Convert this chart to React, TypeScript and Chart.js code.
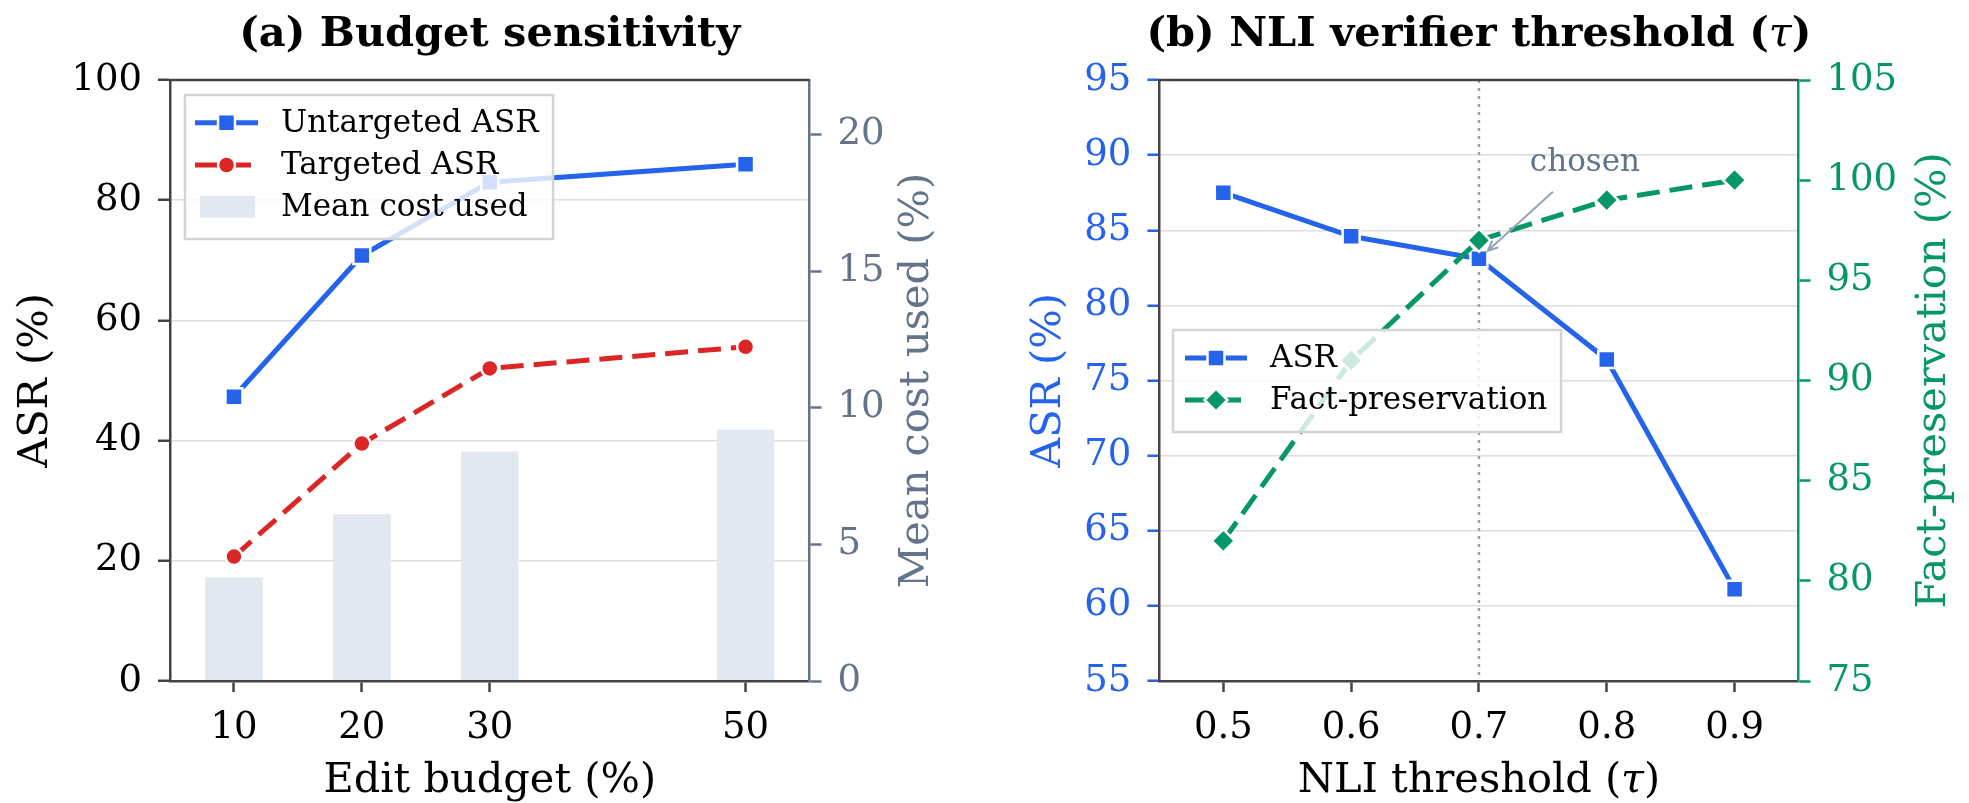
import React, { useEffect, useRef } from 'react';
import { Chart, registerables } from 'chart.js';

Chart.register(...registerables);

// ---------------- data ----------------
const budgetLevels = [10, 20, 30, 50];
const untargetedASR = [47.3, 70.8, 83.0, 86.0];
const targetedASR = [20.7, 39.5, 52.0, 55.6];
const meanCostUsed = [3.8, 6.1, 8.4, 9.2];
const budgetAsrTicks = [0, 20, 40, 60, 80, 100];
const costTicks = [0, 5, 10, 15, 20];

const nliThresholds = [0.5, 0.6, 0.7, 0.8, 0.9];
const nliASR = [87.5, 84.6, 83.1, 76.4, 61.1];
const factPreservation = [82, 91, 97, 99, 100];
const nliAsrTicks = [55, 60, 65, 70, 75, 80, 85, 90, 95];
const factTicks = [75, 80, 85, 90, 95, 100, 105];
const chosenThreshold = 0.7;

// ---------------- style ----------------
const SERIF = '"DejaVu Serif", serif';
const BLUE = '#2563eb';
const RED = '#dc2626';
const GREEN = '#059669';
const SLATE = '#64748b';
const SLATE_LIGHT = '#94a3b8';
const BAR = '#e2e8f0';
const SPINE = '#444444';
const GRID = '#dedede';
const TICK_FONT = 37;
const LABEL_FONT = 41.5;
const TITLE_FONT = 41.5;
const LEGEND_FONT = 31;
const NOTE_FONT = 31;
const LINE_W = 5;
const DASH = [23, 10];

function drawMarker(ctx: CanvasRenderingContext2D, style: string, x: number, y: number, r: number, color: string) {
  ctx.save();
  ctx.beginPath();
  if (style === 'rect') {
    const s = r * Math.SQRT1_2;
    ctx.rect(x - s, y - s, 2 * s, 2 * s);
  } else if (style === 'circle') {
    ctx.arc(x, y, r, 0, Math.PI * 2);
  } else {
    ctx.moveTo(x - r, y);
    ctx.lineTo(x, y - r);
    ctx.lineTo(x + r, y);
    ctx.lineTo(x, y + r);
    ctx.closePath();
  }
  ctx.fillStyle = color;
  ctx.fill();
  ctx.lineWidth = 2.5;
  ctx.strokeStyle = '#ffffff';
  ctx.stroke();
  ctx.restore();
}

function vText(ctx: CanvasRenderingContext2D, text: string, x: number, y: number, color: string, font: string) {
  ctx.save();
  ctx.translate(x, y);
  ctx.rotate(-Math.PI / 2);
  ctx.textAlign = 'center';
  ctx.textBaseline = 'alphabetic';
  ctx.fillStyle = color;
  ctx.font = font;
  ctx.fillText(text, 0, 0);
  ctx.restore();
}

function segText(ctx: CanvasRenderingContext2D, segs: { t: string; f: string }[], cx: number, y: number, color: string) {
  ctx.save();
  ctx.textAlign = 'left';
  ctx.textBaseline = 'alphabetic';
  ctx.fillStyle = color;
  let total = 0;
  const widths = segs.map((s) => {
    ctx.font = s.f;
    const w = ctx.measureText(s.t).width;
    total += w;
    return w;
  });
  let x = cx - total / 2;
  segs.forEach((s, i) => {
    ctx.font = s.f;
    ctx.fillText(s.t, x, y);
    x += widths[i];
  });
  ctx.restore();
}

type LegendItem = { label: string; color: string; kind: 'line' | 'bar'; dash?: number[]; style?: string; r?: number };

function drawLegend(
  ctx: CanvasRenderingContext2D,
  box: { x: number; y: number; w: number; h: number },
  rows: number[],
  lineX0: number,
  lineX1: number,
  textX: number,
  items: LegendItem[]
) {
  ctx.save();
  ctx.fillStyle = 'rgba(255,255,255,0.8)';
  ctx.fillRect(box.x, box.y, box.w, box.h);
  ctx.strokeStyle = '#d4d4d4';
  ctx.lineWidth = 2.5;
  ctx.strokeRect(box.x, box.y, box.w, box.h);
  items.forEach((it, i) => {
    const y = rows[i];
    if (it.kind === 'bar') {
      ctx.fillStyle = it.color;
      ctx.fillRect(lineX0 + 5, y - 11, lineX1 - lineX0 - 8, 22);
    } else {
      ctx.save();
      ctx.strokeStyle = it.color;
      ctx.lineWidth = LINE_W;
      ctx.setLineDash(it.dash || []);
      ctx.beginPath();
      ctx.moveTo(lineX0, y);
      ctx.lineTo(lineX1, y);
      ctx.stroke();
      ctx.restore();
      drawMarker(ctx, it.style || 'rect', (lineX0 + lineX1) / 2, y, it.r || 10, it.color);
    }
    ctx.fillStyle = '#000';
    ctx.font = `${LEGEND_FONT}px ${SERIF}`;
    ctx.textAlign = 'left';
    ctx.textBaseline = 'middle';
    ctx.fillText(it.label, textX, y + 1);
  });
  ctx.restore();
}

function tickFont() {
  return { family: SERIF, size: TICK_FONT };
}

// ---------------- panel (a) ----------------
const budgetDecor = {
  id: 'budgetDecor',
  afterDraw(chart: any) {
    const { ctx, chartArea: a } = chart;
    ctx.save();
    ctx.strokeStyle = SPINE;
    ctx.lineWidth = 2.5;
    ctx.beginPath();
    ctx.moveTo(a.left - 1.25, a.top);
    ctx.lineTo(a.right, a.top);
    ctx.stroke();
    ctx.fillStyle = '#000';
    ctx.font = `bold ${TITLE_FONT}px ${SERIF}`;
    ctx.textAlign = 'center';
    ctx.textBaseline = 'alphabetic';
    ctx.fillText('(a) Budget sensitivity', (a.left + a.right) / 2, 46);
    ctx.font = `${LABEL_FONT}px ${SERIF}`;
    ctx.fillText('Edit budget (%)', (a.left + a.right) / 2, 792);
    ctx.restore();
    const midY = (a.top + a.bottom) / 2;
    vText(ctx, 'ASR (%)', 47, midY, '#000', `${LABEL_FONT}px ${SERIF}`);
    vText(ctx, 'Mean cost used (%)', 928, midY, SLATE, `${LABEL_FONT}px ${SERIF}`);
    drawLegend(ctx, { x: 185, y: 95, w: 368, h: 144 }, [122.7, 165, 206.7], 195, 258, 281, [
      { label: 'Untargeted ASR', color: BLUE, kind: 'line', style: 'rect', r: 12 },
      { label: 'Targeted ASR', color: RED, kind: 'line', dash: DASH, style: 'circle', r: 8.5 },
      { label: 'Mean cost used', color: BAR, kind: 'bar' },
    ]);
  },
};

function makeBudgetChart(canvas: HTMLCanvasElement) {
  return new Chart(canvas, {
    type: 'bar',
    data: {
      datasets: [
        {
          type: 'line',
          label: 'Untargeted ASR',
          data: budgetLevels.map((x, i) => ({ x, y: untargetedASR[i] })),
          borderColor: BLUE,
          backgroundColor: BLUE,
          borderWidth: LINE_W,
          pointStyle: 'rect',
          pointRadius: 12,
          pointBackgroundColor: BLUE,
          pointBorderColor: '#ffffff',
          pointBorderWidth: 2.5,
          yAxisID: 'y',
          order: 1,
        },
        {
          type: 'line',
          label: 'Targeted ASR',
          data: budgetLevels.map((x, i) => ({ x, y: targetedASR[i] })),
          borderColor: RED,
          backgroundColor: RED,
          borderWidth: LINE_W,
          borderDash: DASH,
          pointStyle: 'circle',
          pointRadius: 8.5,
          pointBackgroundColor: RED,
          pointBorderColor: '#ffffff',
          pointBorderWidth: 2.5,
          yAxisID: 'y',
          order: 2,
        },
        {
          type: 'bar',
          label: 'Mean cost used',
          data: budgetLevels.map((x, i) => ({ x, y: meanCostUsed[i] })),
          backgroundColor: BAR,
          borderWidth: 0,
          barPercentage: 0.45,
          categoryPercentage: 1,
          yAxisID: 'y1',
          order: 3,
        },
      ] as any,
    },
    options: {
      responsive: false,
      animation: false,
      devicePixelRatio: 1,
      layout: { padding: { top: 80, left: 0, right: 0, bottom: 0 } },
      plugins: { legend: { display: false }, tooltip: { enabled: false }, title: { display: false } },
      scales: {
        x: {
          type: 'linear',
          min: 5,
          max: 55,
          offset: false,
          afterFit: (s: any) => { s.height = 122; },
          afterBuildTicks: (s: any) => { s.ticks = budgetLevels.map((v) => ({ value: v })); },
          ticks: { color: '#000', font: tickFont(), padding: 14, maxRotation: 0, autoSkip: false, callback: (v: any) => String(v) },
          grid: { offset: false, drawOnChartArea: false, drawTicks: true, tickLength: 11, tickWidth: 2.5, tickColor: SPINE },
          border: { color: SPINE, width: 2.5, z: 1 },
        },
        y: {
          type: 'linear',
          position: 'left',
          min: 0,
          max: 100,
          afterFit: (s: any) => { s.width = 170; },
          afterBuildTicks: (s: any) => { s.ticks = budgetAsrTicks.map((v) => ({ value: v })); },
          ticks: { color: '#000', font: tickFont(), padding: 16 },
          grid: { color: GRID, lineWidth: 1.5, drawTicks: true, tickLength: 12, tickWidth: 2.5, tickColor: SPINE },
          border: { color: SPINE, width: 2.5, z: 1 },
        },
        y1: {
          type: 'linear',
          position: 'right',
          min: 0,
          max: 22,
          afterFit: (s: any) => { s.width = 175.5; },
          afterBuildTicks: (s: any) => { s.ticks = costTicks.map((v) => ({ value: v })); },
          ticks: { color: SLATE, font: tickFont(), padding: 16 },
          grid: { drawOnChartArea: false, drawTicks: true, tickLength: 12, tickWidth: 2.5, tickColor: SLATE },
          border: { color: SLATE, width: 2.5, z: 1 },
        },
      },
    } as any,
    plugins: [budgetDecor],
  });
}

// ---------------- panel (b) ----------------
const OFFSET_B = 985;

const nliBehind = {
  id: 'nliBehind',
  beforeDatasetsDraw(chart: any) {
    const { ctx, chartArea: a, scales } = chart;
    const x = scales.x.getPixelForValue(chosenThreshold);
    ctx.save();
    ctx.strokeStyle = SLATE_LIGHT;
    ctx.lineWidth = 2.5;
    ctx.setLineDash([3, 5]);
    ctx.beginPath();
    ctx.moveTo(x, a.top);
    ctx.lineTo(x, a.bottom);
    ctx.stroke();
    ctx.restore();
  },
};

const nliDecor = {
  id: 'nliDecor',
  afterDraw(chart: any) {
    const { ctx, chartArea: a, scales } = chart;
    ctx.save();
    ctx.strokeStyle = SPINE;
    ctx.lineWidth = 2.5;
    ctx.beginPath();
    ctx.moveTo(a.left - 1.25, a.top);
    ctx.lineTo(a.right, a.top);
    ctx.stroke();
    ctx.restore();

    const cx = (a.left + a.right) / 2;
    segText(ctx, [
      { t: '(b) NLI verifier threshold (', f: `bold ${TITLE_FONT}px ${SERIF}` },
      { t: 'τ', f: `italic ${TITLE_FONT}px ${SERIF}` },
      { t: ')', f: `bold ${TITLE_FONT}px ${SERIF}` },
    ], cx, 46, '#000');
    segText(ctx, [
      { t: 'NLI threshold (', f: `${LABEL_FONT}px ${SERIF}` },
      { t: 'τ', f: `italic ${LABEL_FONT}px ${SERIF}` },
      { t: ')', f: `${LABEL_FONT}px ${SERIF}` },
    ], cx, 792, '#000');
    const midY = (a.top + a.bottom) / 2;
    vText(ctx, 'ASR (%)', 1060 - OFFSET_B, midY, BLUE, `${LABEL_FONT}px ${SERIF}`);
    vText(ctx, 'Fact-preservation (%)', 1945 - OFFSET_B, midY, GREEN, `${LABEL_FONT}px ${SERIF}`);

    // annotation
    const idx = nliThresholds.indexOf(chosenThreshold);
    const tx = scales.x.getPixelForValue(chosenThreshold);
    const ty = scales.y.getPixelForValue(nliASR[idx]);
    const sx = tx + 74;
    const sy = ty - 67;
    const dx = tx - sx;
    const dy = ty - sy;
    const len = Math.hypot(dx, dy);
    const ux = dx / len;
    const uy = dy / len;
    const ex = sx + ux * (len - 12);
    const ey = sy + uy * (len - 12);
    ctx.save();
    ctx.strokeStyle = SLATE_LIGHT;
    ctx.lineWidth = 2;
    ctx.beginPath();
    ctx.moveTo(sx, sy);
    ctx.lineTo(ex, ey);
    const ang = Math.atan2(-uy, -ux);
    const hl = 11;
    const ha = 0.42;
    ctx.moveTo(ex + Math.cos(ang + ha) * hl, ey + Math.sin(ang + ha) * hl);
    ctx.lineTo(ex, ey);
    ctx.lineTo(ex + Math.cos(ang - ha) * hl, ey + Math.sin(ang - ha) * hl);
    ctx.stroke();
    ctx.fillStyle = SLATE;
    ctx.font = `${NOTE_FONT}px ${SERIF}`;
    ctx.textAlign = 'center';
    ctx.textBaseline = 'alphabetic';
    ctx.fillText('chosen', tx + 106, ty - 88);
    ctx.restore();

    drawLegend(ctx, { x: 1173 - OFFSET_B, y: 330, w: 388, h: 102 }, [358, 400], 1185 - OFFSET_B, 1247 - OFFSET_B, 1270 - OFFSET_B, [
      { label: 'ASR', color: BLUE, kind: 'line', style: 'rect', r: 12 },
      { label: 'Fact-preservation', color: GREEN, kind: 'line', dash: DASH, style: 'diamond', r: 11.5 },
    ]);
  },
};

function makeNliChart(canvas: HTMLCanvasElement) {
  return new Chart(canvas, {
    type: 'line',
    data: {
      datasets: [
        {
          label: 'ASR',
          data: nliThresholds.map((x, i) => ({ x, y: nliASR[i] })),
          borderColor: BLUE,
          backgroundColor: BLUE,
          borderWidth: LINE_W,
          pointStyle: 'rect',
          pointRadius: 12,
          pointBackgroundColor: BLUE,
          pointBorderColor: '#ffffff',
          pointBorderWidth: 2.5,
          yAxisID: 'y',
          order: 2,
        },
        {
          label: 'Fact-preservation',
          data: nliThresholds.map((x, i) => ({ x, y: factPreservation[i] })),
          borderColor: GREEN,
          backgroundColor: GREEN,
          borderWidth: LINE_W,
          borderDash: DASH,
          pointStyle: 'rectRot',
          pointRadius: 11.5,
          pointBackgroundColor: GREEN,
          pointBorderColor: '#ffffff',
          pointBorderWidth: 2.5,
          yAxisID: 'y1',
          order: 1,
        },
      ] as any,
    },
    options: {
      responsive: false,
      animation: false,
      devicePixelRatio: 1,
      layout: { padding: { top: 80, left: 0, right: 0, bottom: 0 } },
      plugins: { legend: { display: false }, tooltip: { enabled: false }, title: { display: false } },
      scales: {
        x: {
          type: 'linear',
          min: 0.45,
          max: 0.95,
          afterFit: (s: any) => { s.height = 122; },
          afterBuildTicks: (s: any) => { s.ticks = nliThresholds.map((v) => ({ value: v })); },
          ticks: { color: '#000', font: tickFont(), padding: 14, maxRotation: 0, autoSkip: false, callback: (v: any) => Number(v).toFixed(1) },
          grid: { drawOnChartArea: false, drawTicks: true, tickLength: 11, tickWidth: 2.5, tickColor: SPINE },
          border: { color: SPINE, width: 2.5, z: 1 },
        },
        y: {
          type: 'linear',
          position: 'left',
          min: 55,
          max: 95,
          afterFit: (s: any) => { s.width = 1159.4 - OFFSET_B; },
          afterBuildTicks: (s: any) => { s.ticks = nliAsrTicks.map((v) => ({ value: v })); },
          ticks: { color: BLUE, font: tickFont(), padding: 16 },
          grid: { color: GRID, lineWidth: 1.5, drawTicks: true, tickLength: 12, tickWidth: 2.5, tickColor: BLUE },
          border: { color: SPINE, width: 2.5, z: 1 },
        },
        y1: {
          type: 'linear',
          position: 'right',
          min: 75,
          max: 105,
          afterFit: (s: any) => { s.width = 1969 - 1798.5; },
          afterBuildTicks: (s: any) => { s.ticks = factTicks.map((v) => ({ value: v })); },
          ticks: { color: GREEN, font: tickFont(), padding: 16 },
          grid: { drawOnChartArea: false, drawTicks: true, tickLength: 12, tickWidth: 2.5, tickColor: GREEN },
          border: { color: GREEN, width: 2.5, z: 1 },
        },
      },
    } as any,
    plugins: [nliBehind, nliDecor],
  });
}

export default function App() {
  const aRef = useRef<HTMLCanvasElement>(null);
  const bRef = useRef<HTMLCanvasElement>(null);
  useEffect(() => {
    const a = makeBudgetChart(aRef.current as HTMLCanvasElement);
    const b = makeNliChart(bRef.current as HTMLCanvasElement);
    return () => {
      a.destroy();
      b.destroy();
    };
  }, []);
  return (
    <div style={{ position: 'absolute', left: 0, top: 0, width: 1969, height: 803, background: '#ffffff' }}>
      <canvas ref={aRef} width={985} height={803} style={{ position: 'absolute', left: 0, top: 0, width: 985, height: 803 }} />
      <canvas ref={bRef} width={984} height={803} style={{ position: 'absolute', left: OFFSET_B, top: 0, width: 984, height: 803 }} />
    </div>
  );
}
